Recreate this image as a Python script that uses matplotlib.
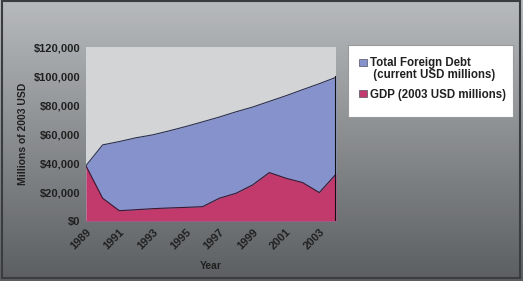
import numpy as np
import matplotlib
matplotlib.use("Agg")
from matplotlib import pyplot as plt
from matplotlib.ticker import FuncFormatter
from matplotlib.patches import Rectangle

# data (millions)
years = list(range(1989, 2005))
debt = [38200, 52500, 54800, 57400, 59400, 62200, 65200, 68400, 71700,
        75300, 78600, 82500, 86400, 90600, 94700, 99100]
gdp = [38000, 15700, 7100, 7800, 8500, 9000, 9400, 9900, 15700,
       19100, 24900, 33400, 29500, 26500, 19600, 32300]
tick_years = [1989, 1991, 1993, 1995, 1997, 1999, 2001, 2003]

debt_color = "#8592cc"
gdp_color = "#c23a6c"

fig = plt.figure(figsize=(5.23, 2.81), dpi=100)

# gradient backdrop
bg = fig.add_axes([0, 0, 1, 1], zorder=-10)
grad = np.linspace(0, 1, 256).reshape(-1, 1)
top = np.array([0.72, 0.73, 0.74])
bot = np.array([0.36, 0.37, 0.38])
img = top[None, None, :] * (1 - grad[:, :, None]) + bot[None, None, :] * grad[:, :, None]
bg.imshow(img, aspect="auto", extent=[0, 1, 0, 1])
bg.add_patch(Rectangle((0.003, 0.012), 0.992, 0.985, fill=False,
                       edgecolor="#3a3c40", lw=1.5, transform=bg.transAxes))
bg.set_axis_off()

ax = fig.add_axes([0.1644, 0.2135, 0.4780, 0.6192])
ax.set_facecolor("#d2d4d6")
x = np.arange(len(years))
ax.fill_between(x, 0, debt, color=debt_color, lw=0)
ax.plot(x, debt, color="#2a3050", lw=0.8)
ax.fill_between(x, 0, gdp, color=gdp_color, lw=0)
ax.plot(x, gdp, color="#3a1830", lw=0.8)
ax.plot([x[-1], x[-1]], [0, debt[-1]], color="#101018", lw=1.5)

ax.set_xlim(0, len(years) - 1)
ax.set_ylim(0, 120000)
ax.set_yticks(range(0, 120001, 20000))
ax.yaxis.set_major_formatter(FuncFormatter(lambda v, p: "${:,.0f}".format(v)))
ax.set_xticks([years.index(y) for y in tick_years])
ax.set_xticklabels([str(y) for y in tick_years], rotation=45, ha="right",
                   rotation_mode="anchor")
for lab in ax.get_xticklabels() + ax.get_yticklabels():
    lab.set_fontweight("bold")
    lab.set_fontsize(8)
    lab.set_color("#202020")
    lab.set_family("Liberation Sans")
ax.tick_params(length=0, pad=4)
for s in ax.spines.values():
    s.set_visible(False)

ax.set_ylabel("Millions of 2003 USD", fontsize=7.5, fontweight="bold",
              family="Liberation Sans", color="#202020", labelpad=4)
ax.set_xlabel("Year", fontsize=7.5, fontweight="bold", family="Liberation Sans",
              color="#202020", labelpad=7)

# legend box
lg = fig.add_axes([0.665, 0.585, 0.316, 0.255])
lg.set_xlim(0, 1)
lg.set_ylim(0, 1)
lg.set_facecolor("white")
lg.set_xticks([])
lg.set_yticks([])
for s in lg.spines.values():
    s.set_color("#9a9a9a")
    s.set_linewidth(0.8)
lg.add_patch(Rectangle((0.065, 0.70), 0.05, 0.1, facecolor=debt_color,
                       edgecolor="#505060", lw=0.5))
lg.add_patch(Rectangle((0.065, 0.27), 0.05, 0.1, facecolor=gdp_color,
                       edgecolor="#505060", lw=0.5))
lg.text(0.135, 0.83, "Total Foreign Debt\n (current USD millions)", fontsize=8.3,
        fontweight="bold", family="Liberation Sans", va="top", color="#202020",
        linespacing=1.0)
lg.text(0.135, 0.30, "GDP (2003 USD millions)", fontsize=8.3,
        fontweight="bold", family="Liberation Sans", va="center", color="#202020")

fig.savefig("out.png", dpi=100)
